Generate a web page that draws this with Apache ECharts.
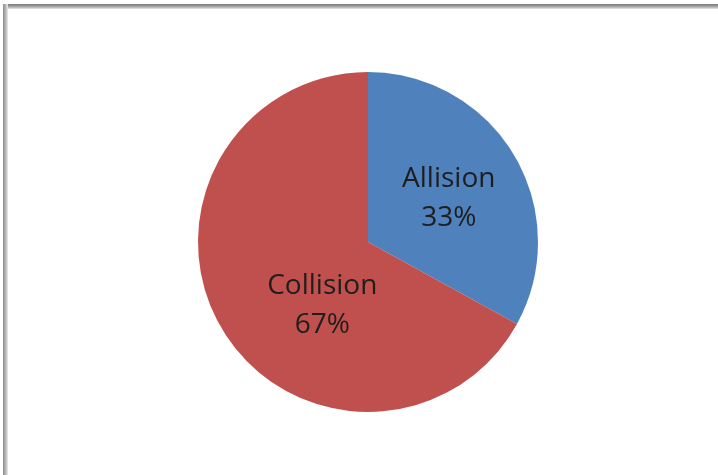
<!DOCTYPE html>
<html>
<head>
<meta charset="utf-8">
<script src="https://cdn.jsdelivr.net/npm/echarts@6/dist/echarts.min.js"></script>
<style>
  html, body { margin: 0; padding: 0; background: #ffffff; }
  #chart { width: 718px; height: 475px; }
</style>
</head>
<body>
<div id="chart"></div>
<script>
// Incident types and their shares (percent)
const categories = ['Allision', 'Collision'];
const shares = [33, 67];
const sliceColors = ['#4F81BD', '#C0504D'];

// Label nudges (px) relative to the default inside position
const labelShift = [[5, 1], [30, 19]];

const chart = echarts.init(document.getElementById('chart'), null, { renderer: 'canvas' });

chart.setOption({
  backgroundColor: '#ffffff',
  animation: false,
  graphic: [
    // frame edges (top and left)
    {
      type: 'rect', left: 3, top: 4, z: 10,
      shape: { width: 715, height: 5 },
      style: {
        fill: new echarts.graphic.LinearGradient(0, 0, 0, 1, [
          { offset: 0, color: '#787878' },
          { offset: 0.5, color: '#a4a4a4' },
          { offset: 1, color: '#e6e6e6' }
        ])
      }
    },
    {
      type: 'rect', left: 3, top: 4, z: 10,
      shape: { width: 5, height: 471 },
      style: {
        fill: new echarts.graphic.LinearGradient(0, 0, 1, 0, [
          { offset: 0, color: '#8c8c8c' },
          { offset: 0.5, color: '#b4b4b4' },
          { offset: 1, color: '#ececec' }
        ])
      }
    }
  ],
  series: [{
    type: 'pie',
    center: [368, 242],
    radius: 170,
    startAngle: 90,
    clockwise: true,
    label: {
      show: true,
      position: 'inside',
      formatter: '{b}\n{c}%',
      fontFamily: '"Open Sans", sans-serif',
      fontSize: 28,
      lineHeight: 39,
      color: '#1e1e1e'
    },
    labelLine: { show: false },
    emphasis: { disabled: true },
    itemStyle: { borderWidth: 0 },
    labelLayout: function (params) {
      const s = labelShift[params.dataIndex] || [0, 0];
      return { dx: s[0], dy: s[1] };
    },
    data: categories.map((name, i) => ({
      name: name,
      value: shares[i],
      itemStyle: { color: sliceColors[i] }
    }))
  }]
});
</script>
</body>
</html>
